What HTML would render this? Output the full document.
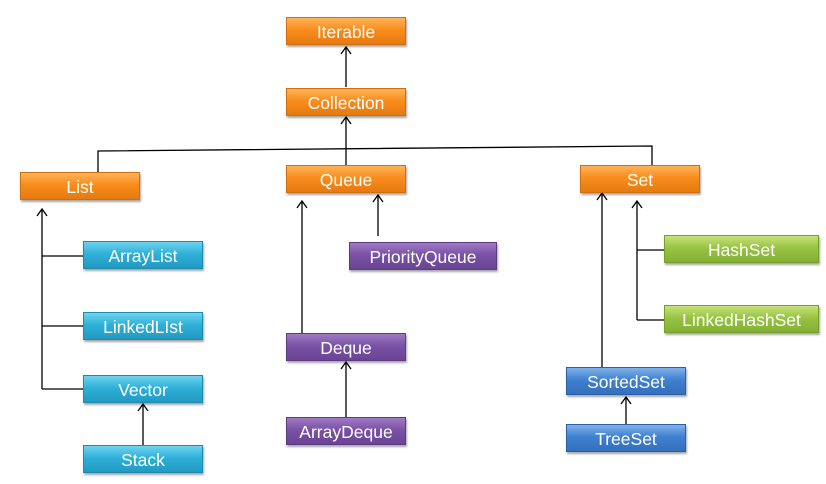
<!DOCTYPE html>
<html><head><style>
body{margin:0;width:826px;height:484px;background:#fff;position:relative;overflow:hidden;font-family:"Liberation Sans",sans-serif}
.b{position:absolute;height:28px;line-height:28px;text-align:center;color:#fff;font-size:17.5px;box-shadow:1px 2px 2px rgba(0,0,0,.35);box-sizing:border-box}
.o{background:linear-gradient(#fdb35a,#f98d1c 45%,#e57a10);border:1px solid #d06e10}
.c{background:linear-gradient(#6fd3ee,#2fb0d8 45%,#229ac2);border:1px solid #1d8ab0}
.p{background:linear-gradient(#9f7ac4,#7a52a6 45%,#6a4494);border:1px solid #5c3a84}
.g{background:linear-gradient(#c8e27a,#97c443 45%,#84b034);border:1px solid #74a02a}
.u{background:linear-gradient(#7fb2ea,#4081d0 45%,#336fbc);border:1px solid #2b60a6}
svg{position:absolute;left:0;top:0}
</style></head><body>
<svg width="826" height="484" fill="none" stroke="#000" stroke-width="1.3">
<path d="M346 87V48M341 54l5-7 5 7"/>
<path d="M346 165V118M341 124l5-7 5 7"/>
<path d="M98 172V151L652 146V165"/>
<path d="M42 389V209M37 216l5-7 5 7M42 256H83M42 326H83M42 389H83"/>
<path d="M143 445V405M138 411l5-7 5 7"/>
<path d="M302 333V202M297 208l5-7 5 7"/>
<path d="M378 236V196M373 202l5-7 5 7"/>
<path d="M346 417V363M341 369l5-7 5 7"/>
<path d="M602 367V194M597 200l5-7 5 7"/>
<path d="M637 320V202M632 208l5-7 5 7M637 250H664M637 320H664"/>
<path d="M626 424V398M621 404l5-7 5 7"/>
</svg>
<div class="b o" style="left:286px;top:17px;width:120px">Iterable</div>
<div class="b o" style="left:286px;top:88px;width:120px">Collection</div>
<div class="b o" style="left:20px;top:172px;width:120px">List</div>
<div class="b o" style="left:286px;top:165px;width:120px">Queue</div>
<div class="b o" style="left:580px;top:165px;width:120px">Set</div>
<div class="b c" style="left:83px;top:241px;width:120px">ArrayList</div>
<div class="b c" style="left:83px;top:312px;width:120px">LinkedLIst</div>
<div class="b c" style="left:83px;top:375px;width:120px">Vector</div>
<div class="b c" style="left:83px;top:445px;width:120px">Stack</div>
<div class="b p" style="left:349px;top:242px;width:148px">PriorityQueue</div>
<div class="b p" style="left:286px;top:333px;width:120px">Deque</div>
<div class="b p" style="left:286px;top:417px;width:120px">ArrayDeque</div>
<div class="b g" style="left:664px;top:235px;width:155px">HashSet</div>
<div class="b g" style="left:664px;top:305px;width:155px">LinkedHashSet</div>
<div class="b u" style="left:566px;top:367px;width:120px">SortedSet</div>
<div class="b u" style="left:566px;top:424px;width:120px">TreeSet</div>
</body></html>
